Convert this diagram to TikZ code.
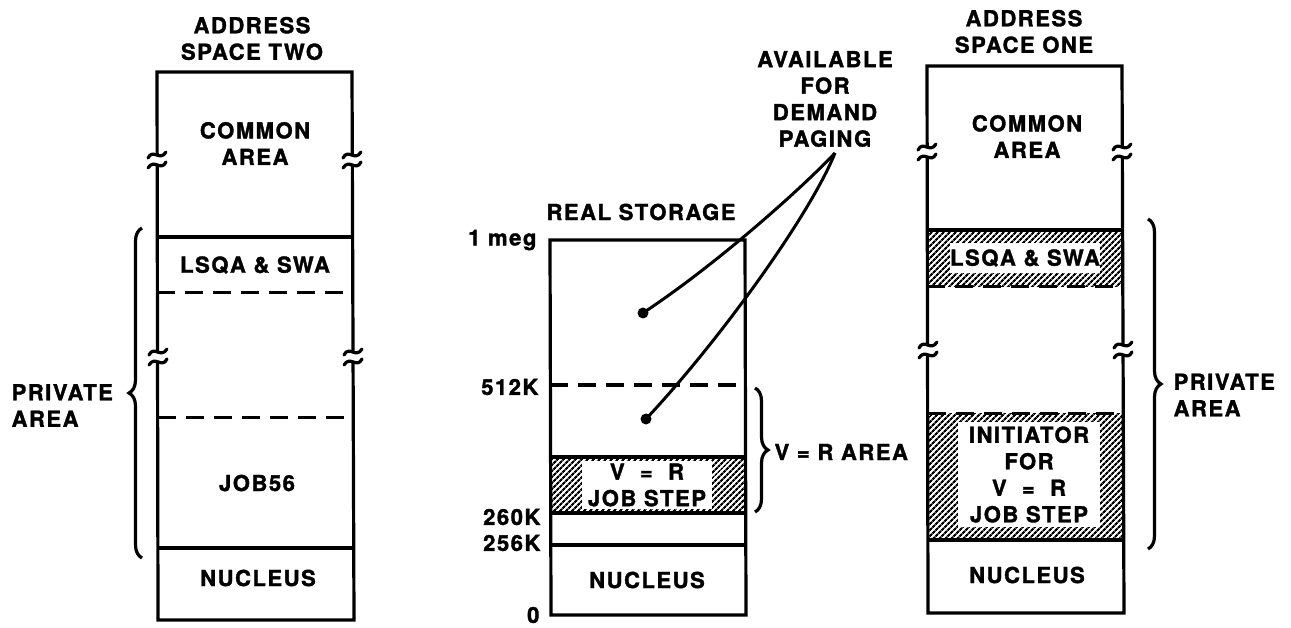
\documentclass[tikz,border=0pt]{standalone}
\usepackage{fontspec}
\setmainfont[LetterSpace=7,BoldFeatures={FakeBold=1.6}]{TeX Gyre Heros}
\usetikzlibrary{patterns.meta,decorations.pathreplacing}
\newcommand\brkmark[2]{%
  \fill[white] ({#1-3},{#2-4}) rectangle ({#1+3},{#2+4});
  \draw[line width=3.2pt,line cap=round] ({#1-9},{#2-2}) .. controls ({#1-4},{#2-12}) and ({#1+3},{#2+2}) .. ({#1+9},{#2-8});
  \draw[line width=3.2pt,line cap=round] ({#1-9},{#2+8}) .. controls ({#1-3},{#2-2}) and ({#1+4},{#2+12}) .. ({#1+9},{#2+2});
}
\begin{document}
\begin{tikzpicture}[x=1pt,y=-1pt,line width=3.2pt,
  lbl/.style={font=\fontsize{22}{26.5}\selectfont\bfseries,align=center,inner sep=0pt},
  dsh/.style={dash pattern=on 18pt off 10pt,line width=3pt},
  hatch/.style={pattern={Lines[angle=45,distance=4pt,line width=2.2pt]}},
  wbox/.style={lbl,fill=white},
  dot/.style={circle,fill,inner sep=0pt,minimum size=11pt},
  brc/.style={decorate,decoration={brace,amplitude=13pt},line width=3.2pt},
  link/.style={line width=3pt}]
\useasboundingbox (0,0) rectangle (1291,628);

% ---------- Address space two ----------
\node[lbl] (t2) at (252,38.5) {ADDRESS\\SPACE TWO};
\draw (158,620) -- (157,72) -- (352,72) -- (354,620) -- cycle;
\draw (157,237) -- (352,237);
\draw[dsh] (157,293) -- (353,293);
\draw[dsh] (158,417) -- (353,417);
\draw (158,548) -- (354,548);
\brkmark{157}{160}
\brkmark{352}{160}
\brkmark{158}{357}
\brkmark{353}{357}
\node[lbl] (c2) at (255,143.5) {COMMON\\AREA};
\node[lbl] (l2) at (255,265) {LSQA \& SWA};
\node[lbl] (j2) at (257,483) {JOB56};
\node[lbl] (n2) at (258,578) {NUCLEUS};
\draw[brc] (142,558) -- (142,228);
\node[lbl,align=left,anchor=west] (p2) at (10,405.5) {PRIVATE\\AREA};

% ---------- Real storage ----------
\node[lbl] (rs) at (641,212) {REAL STORAGE};
\fill[hatch] (550,457) rectangle (745,513);
\node[wbox,minimum width=130pt,minimum height=48pt] (vr) at (647,485) {V\ \ =\ \ R\\JOB STEP};
\draw (550,240) -- (745,240) -- (746,615) -- (551,615) -- cycle;
\draw[dsh] (550,385) -- (745,385);
\draw (550,457) -- (745,457);
\draw (551,513) -- (746,513);
\draw (551,545) -- (746,545);
\node[lbl,anchor=east] (m1) at (538,240) {1 meg};
\node[lbl,anchor=east] (m512) at (540,387) {512K};
\node[lbl,anchor=east] (m260) at (542,517) {260K};
\node[lbl,anchor=east] (m256) at (542,543) {256K};
\node[lbl,anchor=east] (m0) at (541,615) {0};
\node[lbl] (n3) at (647,580) {NUCLEUS};
\draw[brc] (755,388) -- (755,512);
\node[lbl,anchor=west] (vra) at (773,452) {V = R AREA};

% ---------- Available for demand paging ----------
\node[lbl] (av) at (825,99) {AVAILABLE\\FOR\\DEMAND\\PAGING};
\coordinate (pg) at (835,153);
\node[dot] (d1) at (643,313) {};
\node[dot] (d2) at (646,419) {};
\draw[link] (pg) .. controls (805,185) and (720,262) .. (d1.center);
\draw[link] (pg) .. controls (810,215) and (720,340) .. (d2.center);

% ---------- Address space one ----------
\node[lbl] (t1) at (1024,31.5) {ADDRESS\\SPACE ONE};
\fill[hatch] (927,230) rectangle (1123,287);
\fill[hatch] (928,413) rectangle (1124,540);
\node[wbox,minimum width=150pt,minimum height=30pt] (l1) at (1025,258) {LSQA \& SWA};
\node[wbox,minimum width=142pt,minimum height=105pt] (i1) at (1029,474.5) {INITIATOR\\FOR\\V\ \ =\ \ R\\JOB STEP};
\draw (928,613) -- (927,66) -- (1122,66) -- (1124,613) -- cycle;
\draw (927,230) -- (1123,230);
\draw[dsh] (927,287) -- (1123,287);
\draw[dsh] (928,413) -- (1124,413);
\draw (928,540) -- (1124,540);
\brkmark{927}{152}
\brkmark{1122}{152}
\brkmark{928}{350}
\brkmark{1123}{350}
\node[lbl] (c1) at (1027,136.5) {COMMON\\AREA};
\node[lbl] (n1) at (1027,575) {NUCLEUS};
\draw[brc] (1148,219) -- (1148,549);
\node[lbl,align=left,anchor=west] (p1) at (1172,395) {PRIVATE\\AREA};
\end{tikzpicture}
\end{document}
